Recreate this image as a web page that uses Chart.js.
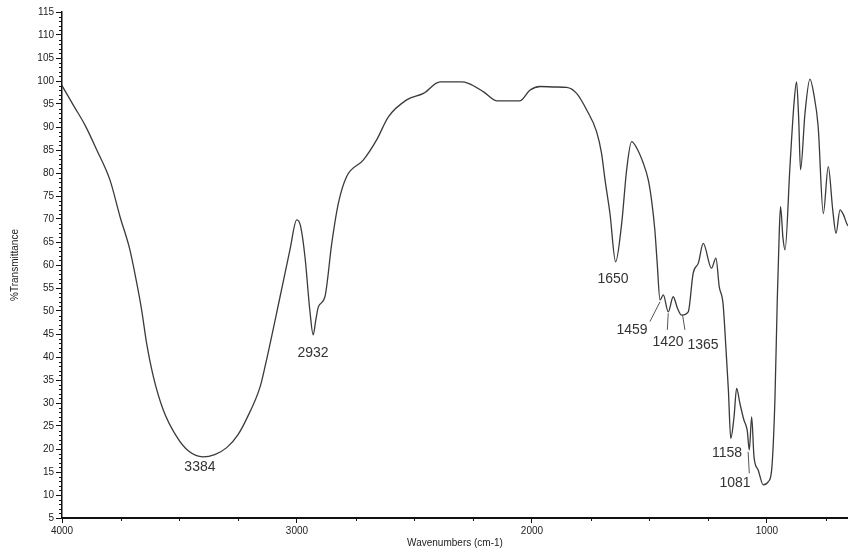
<!DOCTYPE html>
<html>
<head>
<meta charset="utf-8">
<script src="https://cdn.jsdelivr.net/npm/chart.js@4"></script>
<style>
  body { margin: 0; background: #fff; }
  #wrap { width: 848px; height: 550px; }
</style>
</head>
<body>
<div id="wrap"><canvas id="irChart" width="848" height="550"></canvas></div>
<script>
// spectrum: wavenumber (cm-1) and %T
const wavenumbers = [4000, 3950, 3902, 3852, 3796, 3753, 3711, 3682, 3661, 3640, 3611, 3569, 3512, 3460, 3400, 3350, 3299, 3250, 3214, 3157, 3136, 3072, 3030, 3001, 2985, 2966, 2945, 2931, 2920, 2909, 2881, 2852, 2824, 2789, 2718, 2661, 2611, 2533, 2462, 2391, 2300, 2271, 2207, 2150, 2051, 2009, 1966, 1900, 1852, 1810, 1767, 1725, 1704, 1689, 1668, 1644, 1618, 1597, 1576, 1555, 1526, 1505, 1491, 1477, 1467, 1455, 1441, 1420, 1399, 1380, 1363, 1335, 1314, 1292, 1271, 1236, 1217, 1203, 1187, 1174, 1164, 1154, 1140, 1129, 1115, 1098, 1084, 1075, 1065, 1055, 1037, 1016, 994, 980, 966, 956, 947, 942, 932, 923, 902, 885, 874, 865, 857, 838, 817, 800, 782, 760, 739, 720, 706, 689, 675, 661, 655];
const transmittance = [99, 94.6, 90.4, 85, 78.5, 70.5, 63.3, 56.1, 50.2, 43, 35.7, 28.5, 22.7, 19.5, 18.3, 18.8, 20.3, 23.2, 26.6, 33.5, 37.9, 53.1, 63.3, 69.8, 68.5, 61.8, 50, 44.8, 48, 50.9, 53.1, 64.7, 73.4, 79.2, 82.8, 87.2, 92.2, 95.9, 97.3, 99.8, 99.8, 99.5, 97.7, 95.7, 95.7, 98, 98.8, 98.7, 98.6, 97.3, 93.7, 89, 84.3, 78.5, 71.2, 60.7, 69.1, 80.7, 86.8, 85.5, 82.1, 78.5, 74.1, 67.6, 60.4, 52.4, 53.5, 49.8, 53.1, 50.5, 49.1, 49.8, 58.2, 60.4, 64.7, 59.3, 61.5, 55.3, 51.7, 41.5, 32.8, 22.3, 27, 33.2, 29.9, 26.3, 24.1, 19.8, 27, 18.3, 15.4, 12.2, 12.9, 15.4, 30.7, 52.4, 68, 72.7, 66, 63.3, 81.4, 95, 99.8, 92, 80.7, 93, 100.4, 97, 90.1, 71.2, 81.4, 72, 66.9, 72, 71, 69.1, 68.5];

const xTicks = [4000, 3000, 2000, 1000];

// peak labels: text, and where the text sits (wavenumber, %T)
const peakLabels = ['3384', '2932', '1650', '1459', '1420', '1365', '1158', '1081'];
const labelAtW = [3413, 2932, 1655, 1574, 1421, 1272, 1170, 1136];
const labelAtT = [16.1, 40.9, 57, 45.9, 43.3, 42.6, 19.1, 12.6];

// leader lines [w1, t1, w2, t2]
const leaders = [
  [1498, 47.7, 1455, 52],
  [1424, 45.9, 1420, 49.5],
  [1349, 45.9, 1359, 49.1],
  [1075, 14.7, 1080, 19.4]
];

const points = wavenumbers.map((w, i) => ({ x: w, y: transmittance[i] }));

const extras = {
  id: 'extras',
  afterDatasetsDraw(chart) {
    const { ctx, scales: { x, y } } = chart;
    ctx.save();
    ctx.strokeStyle = '#111';
    ctx.lineWidth = 1;
    // minor ticks
    for (let v = 6; v < 115; v++) {
      if (v % 5 === 0) continue;
      const py = Math.round(y.getPixelForValue(v)) + 0.5;
      ctx.beginPath();
      ctx.moveTo(y.right - 3, py);
      ctx.lineTo(y.right, py);
      ctx.stroke();
    }
    for (let v = 750; v < 4000; v += 250) {
      if (v % 1000 === 0) continue;
      const px = Math.round(x.getPixelForValue(v)) + 0.5;
      ctx.beginPath();
      ctx.moveTo(px, x.top);
      ctx.lineTo(px, x.top + 3);
      ctx.stroke();
    }
    // peak labels
    ctx.fillStyle = '#333';
    ctx.font = '14px "Liberation Sans", Arial, sans-serif';
    ctx.textAlign = 'center';
    ctx.textBaseline = 'middle';
    peakLabels.forEach((t, i) => {
      ctx.fillText(t, x.getPixelForValue(labelAtW[i]), y.getPixelForValue(labelAtT[i]));
    });
    ctx.strokeStyle = '#555';
    leaders.forEach(l => {
      ctx.beginPath();
      ctx.moveTo(x.getPixelForValue(l[0]), y.getPixelForValue(l[1]));
      ctx.lineTo(x.getPixelForValue(l[2]), y.getPixelForValue(l[3]));
      ctx.stroke();
    });
    ctx.restore();
  }
};

const tickFont = { family: '"Liberation Sans Narrow", "Liberation Sans", Arial, sans-serif', size: 10 };

new Chart(document.getElementById('irChart'), {
  type: 'line',
  data: {
    datasets: [{
      data: points,
      borderColor: '#3a3a3a',
      borderWidth: 1.3,
      pointRadius: 0,
      cubicInterpolationMode: 'monotone',
      fill: false
    }]
  },
  options: {
    responsive: false,
    animation: false,
    layout: { padding: { top: 12, left: 0, right: 0, bottom: 0 } },
    plugins: { legend: { display: false }, tooltip: { enabled: false } },
    scales: {
      x: {
        type: 'linear',
        reverse: true,
        min: 655,
        max: 4000,
        afterBuildTicks: s => { s.ticks = xTicks.map(v => ({ value: v })); },
        afterFit: s => { s.height = 32; },
        grid: { drawOnChartArea: false, tickLength: 5, color: '#111' },
        border: { color: '#111', width: 2 },
        ticks: { font: tickFont, color: '#222', padding: 2, maxRotation: 0, autoSkip: false, callback: v => String(v) },
        title: { display: true, text: 'Wavenumbers (cm-1)', font: tickFont, color: '#222', padding: { top: 0, bottom: 1 } }
      },
      y: {
        min: 5,
        max: 115,
        afterFit: s => { s.width = 62; },
        grid: { drawOnChartArea: false, tickLength: 6, color: '#111' },
        border: { color: '#111', width: 1.5 },
        ticks: { stepSize: 5, font: tickFont, color: '#222', padding: 2, autoSkip: false },
        title: { display: true, text: '%Transmittance', font: tickFont, color: '#222', padding: { top: 9, bottom: 0 } }
      }
    }
  },
  plugins: [extras]
});
</script>
</body>
</html>
